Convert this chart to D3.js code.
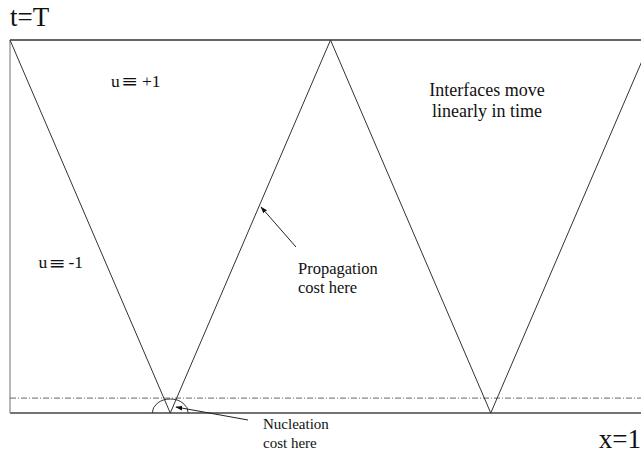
<!DOCTYPE html>
<html>
<head>
<meta charset="utf-8">
<script src="https://cdn.jsdelivr.net/npm/d3@7"></script>
<style>
  body { margin: 0; background: #fff; }
  svg text { font-family: "Liberation Serif", "DejaVu Serif", serif; fill: #111; }
</style>
</head>
<body>
<div id="chart"></div>
<script>
'use strict';

// interface path: x position and time (t=0 bottom, t=T top)
var interfaceX = [0, 0.25, 0.5, 0.75, 1];
var interfaceT = [1, 0, 1, 0, 1];
var nucleationCutT = 0.04;   // dash-dot level
var regionValues = ['+1', '-1'];
var noteLines = ['Interfaces move', 'linearly in time'];
var propLines = ['Propagation', 'cost here'];
var nuclLines = ['Nucleation', 'cost here'];

var width = 641, height = 455;

var x = d3.scaleLinear().domain([0, 1]).range([10, 651]);
var y = d3.scaleLinear().domain([0, 1]).range([413, 40]);

var svg = d3.select('#chart').append('svg')
    .attr('width', width)
    .attr('height', height);

var defs = svg.append('defs');
defs.append('marker')
    .attr('id', 'arrow')
    .attr('viewBox', '0 0 10 10')
    .attr('refX', 9).attr('refY', 5)
    .attr('markerWidth', 7).attr('markerHeight', 7)
    .attr('orient', 'auto')
    .append('path')
    .attr('d', 'M0,1.5 L10,5 L0,8.5 Z')
    .attr('fill', '#111');

// box
svg.append('line')
    .attr('x1', x(0)).attr('x2', x(1))
    .attr('y1', y(1)).attr('y2', y(1))
    .style('stroke', '#333').style('stroke-width', 1.5);
svg.append('line')
    .attr('x1', x(0)).attr('x2', x(1))
    .attr('y1', y(0)).attr('y2', y(0))
    .style('stroke', '#444').style('stroke-width', 1.3);
svg.append('line')
    .attr('x1', x(0)).attr('x2', x(0))
    .attr('y1', y(0)).attr('y2', y(1))
    .style('stroke', '#888').style('stroke-width', 1.2);

// dash-dot line
svg.append('line')
    .attr('x1', x(0)).attr('x2', x(1))
    .attr('y1', y(nucleationCutT)).attr('y2', y(nucleationCutT))
    .style('stroke', '#555').style('stroke-width', 0.9)
    .style('stroke-dasharray', '6,2,1,2');

// interfaces
var pts = interfaceX.map(function(d, i) { return [d, interfaceT[i]]; });
svg.append('path')
    .datum(pts)
    .attr('d', d3.line().x(function(d) { return x(d[0]); }).y(function(d) { return y(d[1]); }))
    .style('fill', 'none')
    .style('stroke', '#333')
    .style('stroke-width', 1);

// nucleation half-ellipse
var nx = x(interfaceX[1]), ny = y(0);
svg.append('path')
    .attr('d', 'M' + (nx - 18) + ',' + ny + ' A18,14 0 0 1 ' + (nx + 18) + ',' + ny)
    .style('fill', 'none').style('stroke', '#333').style('stroke-width', 1);

// arrows
svg.append('line')
    .attr('x1', 296).attr('y1', 247)
    .attr('x2', 261).attr('y2', 207)
    .style('stroke', '#222').style('stroke-width', 1)
    .attr('marker-end', 'url(#arrow)');
svg.append('line')
    .attr('x1', 248).attr('y1', 420)
    .attr('x2', 176).attr('y2', 407)
    .style('stroke', '#222').style('stroke-width', 1)
    .attr('marker-end', 'url(#arrow)');

// text
svg.append('text').attr('x', 10).attr('y', 26).style('font-size', '27px').text('t=T');
svg.append('text').attr('x', 641).attr('y', 448).attr('text-anchor', 'end').style('font-size', '27px').text('x=1');

// "u ≡ value" with a wide, low identity sign like the original
function regionLabel(px, py, val, valGap) {
    var g = svg.append('g').attr('transform', 'translate(' + px + ',' + py + ')');
    g.append('text').style('font-size', '17.5px').text('u');
    g.append('text')
        .attr('x', 10).attr('y', 0.5)
        .attr('textLength', 17).attr('lengthAdjust', 'spacingAndGlyphs')
        .style('font-family', '"DejaVu Serif", serif')
        .style('font-size', '17px')
        .text('\u2261');
    g.append('text').attr('x', 28 + valGap).style('font-size', '17.5px').text(val);
}
regionLabel(111, 86.5, regionValues[0], 3);
regionLabel(38.5, 268, regionValues[1], 2);

svg.selectAll('text.note').data(noteLines).enter().append('text')
    .attr('class', 'note')
    .attr('x', 487).attr('y', function(d, i) { return 96 + i * 21; })
    .attr('text-anchor', 'middle')
    .style('font-size', '18px')
    .text(function(d) { return d; });

svg.selectAll('text.prop').data(propLines).enter().append('text')
    .attr('class', 'prop')
    .attr('x', 298).attr('y', function(d, i) { return 274 + i * 19; })
    .style('font-size', '16.5px')
    .text(function(d) { return d; });

svg.selectAll('text.nucl').data(nuclLines).enter().append('text')
    .attr('class', 'nucl')
    .attr('x', 263).attr('y', function(d, i) { return 429 + i * 19; })
    .style('font-size', '15px')
    .text(function(d) { return d; });
</script>
</body>
</html>
